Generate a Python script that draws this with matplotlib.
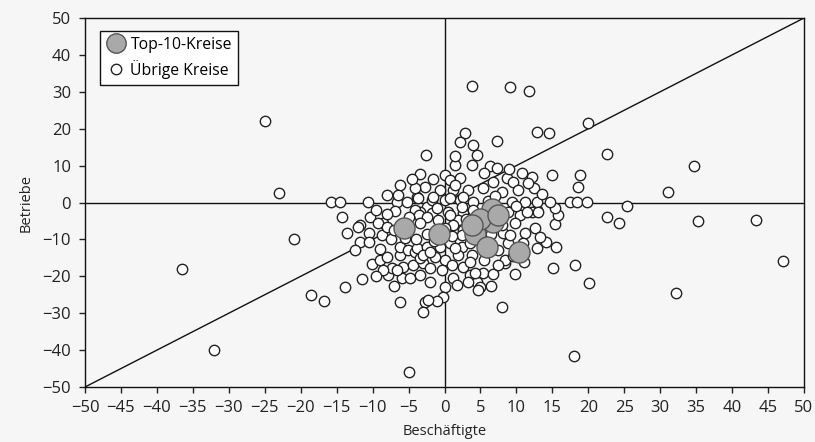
import matplotlib
matplotlib.use("Agg")
import matplotlib.pyplot as plt
from matplotlib.lines import Line2D

plt.rcParams['font.family'] = ['Open Sans', 'DejaVu Sans']

# Übrige Kreise (x = Beschäftigte, y = Betriebe)
other_pts = [
    (-25, 22), (-23, 2.5), (-21, -10), (-36.5, -18), (-32, -40), (-18.5, -25), (-16.8, -26.8),
    (-15.8, 0.2), (-14.5, 0.2), (-10.6, 0.2), (-6.6, 0.1),
    (-14.3, -4), (-10.4, -4),
    (3.8, 31.5), (9.1, 31.3), (11.8, 30.2),
    (12.9, 19.1), (14.5, 18.8), (20, 21.5), (22.6, 13.2),
    (31.1, 2.8), (34.7, 10), (25.4, -1), (22.6, -4), (24.3, -5.6), (35.3, -5), (43.3, -4.8),
    (47.1, -15.8), (32.2, -24.6), (18, -41.5), (-5, -46),
    (15.4, -5.8), (15.5, -12), (14.1, -10.7), (15.1, -17.8), (18.2, -17), (20.1, -21.9),
    (12.6, -7), (8, -28.3), (9.8, -19.4), (5.4, -19.2),
    (15.8, -3.4), (15.4, -1.6), (12.9, -1.9),
    (15, 7.5), (18.8, 7.5), (18.6, 4.2), (12.2, 6.9), (12.4, 3.9), (12.9, 0.1), (14.7, 0.1),
    (17.5, 0.1), (18.4, 0.1), (19.8, 0.1),
    (-2.6, 12.9), (-3.4, 7.8), (-2.7, 4.2), (-6.2, 4.7), (-6.5, 2), (-3.8, 1.5), (-5.2, 0.1),
    (-6.9, -2.3), (-2.4, -1.2), (-11.8, -6), (-8.6, -5.6), (-3.4, -2.6),
    (2.85, 18.8), (2.2, 16.4), (4, 15.6), (7.3, 16.7), (4.5, 12.9), (1.5, 10.2), (3.8, 10.2),
    (6.3, 9.9), (7.3, 9.3), (0.1, 7.5), (-1.6, 6.3), (0.8, 6.1), (2.2, 6.6), (-0.6, 3.4),
    (1.2, 3.4), (3.3, 3.4), (5.4, 3.9), (6.7, 5.6), (8.7, 6.6), (9.5, 5.6), (10.8, 8),
    (10.2, 3.4), (8, 2.8), (11.6, 5.3), (-1.7, 0.7), (0.1, 0.7), (2.2, 0.7), (4, 0.1),
    (9.4, 0.1), (11.2, 0.1), (-1.7, -2.8), (0.5, -2.6), (2.6, -2.8), (8.8, -2.6), (10.5, -3.4),
    (12.2, -2.6), (1.9, -4.7), (-0.9, -4.7),
    (1.5, 4.7), (-4.1, 3.9), (-1.6, 1.5), (0.8, 1.2), (2.6, 1.5), (-3.7, 1.2), (-4.1, -2),
    (2.4, -1.2), (4, -2),
    (-13.5, -8.3), (-12.1, -6.6), (-10.5, -8.2), (-11.7, -10.7), (-10.5, -10.7), (-8.7, -8.8),
    (-9.2, -5.6), (-8, -6.6),
    (-10.1, -16.6), (-9, -15.6), (-8, -14.8), (-7.9, -19.6), (-7.3, -17.8), (-6.2, -14.2),
    (-5.9, -20.5), (-4.8, -20.5), (-3.4, -19.6), (-5.8, -17.5), (-4.4, -16.9), (-3, -16.3),
    (-6.2, -12), (-5.1, -12.9), (-4.1, -13.4), (-3.4, -15),
    (-11.5, -20.8), (-13.9, -22.9), (-6.2, -27), (-2.7, -27), (-3, -29.8),
    (-3.6, -3.4), (-2.4, -4), (0.8, -3.4), (1.2, -6), (2.6, -7.5), (-3.4, -5.6),
    (-3.8, -12.4), (-2.4, -12), (-0.6, -12), (0.8, -11), (2.4, -12), (3.5, -11), (3.8, -14.2),
    (1.9, -14.2), (0.1, -15.6), (-1.3, -14.8), (-3, -14.2),
    (-8.6, -18.3), (-6.6, -18.3), (-2, -17.8), (-0.3, -18.3), (1, -16.9), (2.6, -17.5),
    (3.5, -19.6), (4.5, -21.5), (1.2, -20.5), (0.1, -22.9), (-0.2, -25.6), (-1, -26.6),
    (2.4, -8.8), (1.5, -12.4), (-2, -13.4), (3.5, -16.1), (4.2, -19.2), (3.3, -21.5),
    (4.9, -22.9), (1.7, -22.4), (-2.3, -26.4), (8.4, -16.4), (7.4, -12.9), (8.8, -11),
    (9.8, -5.6), (11.2, -8.3), (8.1, -8.3), (8, -6), (3.8, -6), (5.2, -10.2),
    (-7.5, -10), (-2.5, -8.5), (-4, -10), (-1.5, -10.5), (1, -9), (-9.5, -2),
    (13.3, -9.3), (12.9, -12.4), (10.9, -11), (9.1, -8.8), (4.7, -23.7),
    (11.5, -2.6), (13, -2.6), (8.4, -15.6),
    (-9, -12.5), (-7, -7.5), (-5, -4), (-1, -1.5), (3, -4.5), (6, 0.5), (7, 1.8), (10, -1),
    (6.5, -8.5), (9.5, -14.5), (6.8, -19.5), (-2, -21.5), (-7, -22.5), (-9.5, -20),
    (-12.5, -13), (-8, -3), (-5.5, -9.5), (0, -7), (5.5, -15.5), (7.5, -17), (11, -16),
    (-4.5, 6.5), (1.5, 12.5), (5.5, 8), (9, 9), (-8, 2), (13.5, 2.3), (6.5, -22.5),
]
other_x = [p[0] for p in other_pts]
other_y = [p[1] for p in other_pts]

# Top-10-Kreise
top_x = [-5.6, -0.8, 4.3, 6.6, 6.8, 5.9, 10.4, 5.0, 3.8, 7.5]
top_y = [-7.0, -8.5, -8.5, -1.8, -5.3, -12.0, -13.4, -4.5, -6.0, -3.5]

x_ticks = list(range(-50, 51, 5))
y_ticks = list(range(-50, 51, 10))

bg = '#f6f6f6'
fig = plt.figure(figsize=(8.15, 4.42), dpi=100, facecolor=bg)
ax = fig.add_axes([0.1043, 0.1244, 0.8822, 0.8349], facecolor=bg)

ax.plot([-50, 50], [-50, 50], color='#111111', lw=1.0, zorder=1)
ax.axhline(0, color='#111111', lw=1.0, zorder=1)
ax.axvline(0, color='#111111', lw=1.0, zorder=1)

ax.scatter(other_x, other_y, s=56, facecolor='white', edgecolor='#222222', linewidth=1.0, zorder=2)
ax.scatter(top_x, top_y, s=230, facecolor='#a9a9a9', edgecolor='#555555', linewidth=1.0, zorder=3)

ax.set_xlim(-50, 50)
ax.set_ylim(-50, 50)
ax.set_xticks(x_ticks)
ax.set_yticks(y_ticks)
ax.tick_params(direction='out', length=4, width=1, labelsize=12, colors='#222222')
ax.tick_params(axis='x', pad=5)
ax.tick_params(axis='y', pad=6)
for sp in ax.spines.values():
    sp.set_color('#111111')
    sp.set_linewidth(1.0)

ax.set_xlabel('Beschäftigte', fontsize=10.5, color='#222222', labelpad=6)
ax.set_ylabel('Betriebe', fontsize=10.5, color='#222222', labelpad=6)

handles = [
    Line2D([], [], linestyle='none', marker='o', markersize=14, markerfacecolor='#a9a9a9',
           markeredgecolor='#555555', label='Top-10-Kreise'),
    Line2D([], [], linestyle='none', marker='o', markersize=7.5, markerfacecolor='white',
           markeredgecolor='#222222', label='Übrige Kreise'),
]
leg = ax.legend(handles=handles, loc='upper left', bbox_to_anchor=(0.021, 0.965), fontsize=11.3,
                frameon=True, fancybox=False, edgecolor='#111111', facecolor='white',
                framealpha=1, handletextpad=0.25, borderpad=0.38, labelspacing=0.45,
                handlelength=1.3, borderaxespad=0)
leg.get_frame().set_linewidth(1.0)

fig.savefig('out.png', dpi=100, facecolor=bg)
